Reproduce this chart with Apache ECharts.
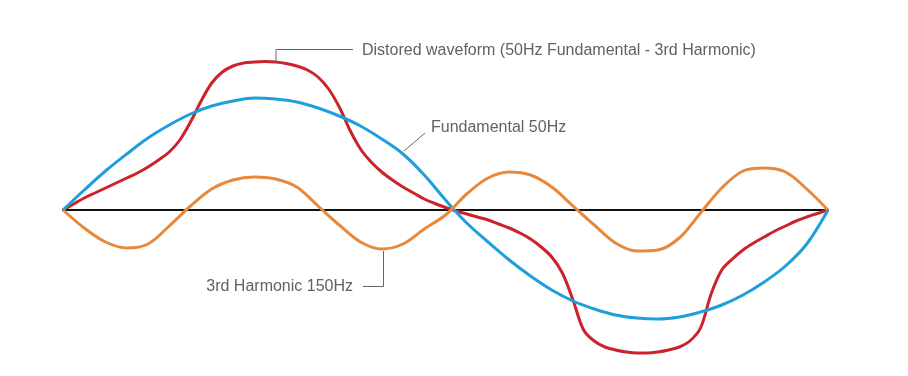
<!DOCTYPE html>
<html>
<head>
<meta charset="utf-8">
<script src="https://cdn.jsdelivr.net/npm/echarts@6/dist/echarts.min.js"></script>
<style>
  html, body { margin: 0; padding: 0; background: #fff; }
  #chart { width: 908px; height: 376px; }
</style>
</head>
<body>
<div id="chart"></div>
<script>
// phase in degrees over one 50Hz cycle (arbitrary units)
const phase10 = [0, 10, 20, 30, 40, 50, 60, 70, 80, 90, 100, 110, 120, 130, 140, 150, 160, 170, 180,
  190, 200, 210, 220, 230, 240, 250, 260, 270, 280, 290, 300, 310, 320, 330, 340, 350, 360];
const phase5 = [0, 5, 10, 15, 20, 25, 30, 35, 40, 45, 50, 55, 60, 65, 70, 75, 80, 85, 90,
  95, 100, 105, 110, 115, 120, 125, 130, 135, 140, 145, 150, 155, 160, 165, 170, 175, 180,
  185, 190, 195, 200, 205, 210, 215, 220, 225, 230, 235, 240, 245, 250, 255, 260, 265, 270,
  275, 280, 285, 290, 295, 300, 305, 310, 315, 320, 325, 330, 335, 340, 345, 350, 355, 360];

// fundamental 50Hz (per 10 deg)
const fundValue = [0, 20, 39, 56, 72, 85, 96, 104, 109, 112, 111, 108, 102, 94, 84, 71, 56, 35, 10,
  -13, -32, -50, -66, -80, -91, -99, -105, -108, -109, -107, -102, -95, -85, -72, -56, -34, 0];

// 3rd harmonic 150Hz (per 10 deg)
const harmValue = [0, -18, -32, -38, -34, -16, 4, 21, 30, 33, 31, 23, 4, -15, -32, -39, -34, -19, -5,
  16, 32, 38, 35, 23, 4, -15, -33, -41, -40, -28, -3, 22, 39, 42, 38, 21, 0];

// distorted waveform (per 5 deg)
const distValue = [0, 6, 12, 17, 22, 27, 32, 37, 43, 50, 58, 70, 88, 109, 127, 138, 144, 147, 148,
  148.5, 148, 146.5, 144, 140, 133, 121, 103, 80, 61, 48, 38, 30, 23, 17, 11, 6.5, 2.5,
  -1, -4, -7, -10, -14, -18, -23, -29, -37, -47, -63, -90, -120, -131, -137, -140, -142, -143,
  -143, -142, -140, -137, -131, -118, -84, -60, -49, -40, -33, -27, -21, -16, -11, -7, -3.5, 0];

const labels = [
  'Distored waveform (50Hz Fundamental - 3rd Harmonic)',
  'Fundamental 50Hz',
  '3rd Harmonic 150Hz'
];

const colorList = ['#cc2229', '#1e9fdc', '#e8883a'];

function pairs(xs, ys) {
  return xs.map((x, i) => [x, ys[i]]);
}

function waveSeries(name, data, color) {
  return {
    name: name,
    type: 'line',
    data: data,
    smooth: 0.35,
    showSymbol: false,
    lineStyle: { width: 3, color: color },
    silent: true
  };
}

const textStyle = {
  fill: '#616161',
  fontSize: 16,
  fontFamily: 'Liberation Sans, Arial, sans-serif',
  verticalAlign: 'middle'
};
const leader = { stroke: '#666', lineWidth: 1 };

const option = {
  animation: false,
  grid: { left: 63, right: 80, top: 50, bottom: 6 },
  xAxis: {
    type: 'value',
    min: 0,
    max: 360,
    axisLine: { show: true, onZero: true, lineStyle: { color: '#111', width: 2 } },
    axisTick: { show: false },
    axisLabel: { show: false },
    splitLine: { show: false }
  },
  yAxis: {
    type: 'value',
    min: -160,
    max: 160,
    show: false
  },
  series: [
    waveSeries('distorted', pairs(phase5, distValue), colorList[0]),
    waveSeries('fundamental', pairs(phase10, fundValue), colorList[1]),
    waveSeries('harmonic', pairs(phase10, harmValue), colorList[2])
  ],
  graphic: [
    // distorted waveform label
    { type: 'polyline', shape: { points: [[276, 63], [276, 49.5], [353, 49.5]] }, style: leader, z: 10 },
    { type: 'text', x: 362, y: 51, style: Object.assign({ text: labels[0] }, textStyle), z: 10 },
    // fundamental label
    { type: 'line', shape: { x1: 404, y1: 151, x2: 425, y2: 133 }, style: leader, z: 10 },
    { type: 'text', x: 431, y: 128, style: Object.assign({ text: labels[1] }, textStyle), z: 10 },
    // harmonic label
    { type: 'polyline', shape: { points: [[363, 286.5], [383.5, 286.5], [383.5, 251]] }, style: leader, z: 10 },
    { type: 'text', x: 353, y: 287, style: Object.assign({ text: labels[2], align: 'right' }, textStyle), z: 10 }
  ]
};

const myChart = echarts.init(document.getElementById('chart'));
myChart.setOption(option);
</script>
</body>
</html>
